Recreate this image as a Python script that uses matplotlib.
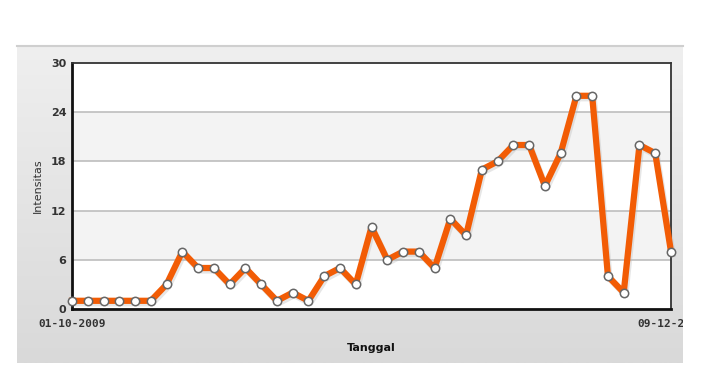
import matplotlib.pyplot as plt
import matplotlib.patches as mpatches
import numpy as np

# data
tanggal_awal = "01-10-2009"
tanggal_akhir = "09-12-2009"
intensitas = [1, 1, 1, 1, 1, 1, 3, 7, 5, 5, 3, 5, 3, 1, 2, 1, 4, 5, 3, 10,
              6, 7, 7, 5, 11, 9, 17, 18, 20, 20, 15, 19, 26, 26, 4, 2, 20, 19, 7]
y_ticks = [0, 6, 12, 18, 24, 30]

W, H = 702, 387
fig = plt.figure(figsize=(W / 100, H / 100), dpi=100)
fig.patch.set_facecolor("white")

# gray panel with a soft vertical gradient
bg = fig.add_axes([17 / W, 1 - 363 / H, 666 / W, 318 / H])
grad = np.linspace(0, 1, 256).reshape(-1, 1)
bg.imshow(grad, aspect="auto", cmap=plt.matplotlib.colors.LinearSegmentedColormap.from_list(
    "g", ["#efefef", "#d9d9d9"]), extent=[0, 1, 0, 1], origin="upper")
bg.set_axis_off()
fig.add_artist(plt.Line2D([17 / W, 683 / W], [1 - 46 / H, 1 - 46 / H],
                          color="#cfcfcf", lw=1.5, transform=fig.transFigure))

ax = fig.add_axes([72 / W, 1 - 309 / H, 599 / W, 246 / H])
ax.set_facecolor("white")

x = np.arange(len(intensitas))
# alternating bands
for i in range(len(y_ticks) - 1):
    if i % 2 == 1:
        ax.axhspan(y_ticks[i], y_ticks[i + 1], color="#f3f3f3", lw=0, zorder=0)
for t in y_ticks[1:-1]:
    ax.axhline(t, color="#bdbdbd", lw=1.2, zorder=1)

# shadow, line, markers
ax.plot(x + 0.1, np.array(intensitas) - 0.3, color="#b8b8b8", lw=4.5, alpha=0.35,
        solid_joinstyle="round", zorder=2, clip_on=False)
ax.plot(x, intensitas, color="#f25c05", lw=4.5, solid_joinstyle="round", zorder=3, clip_on=False)
ax.plot(x, intensitas, linestyle="none", marker="o", ms=6, mfc="white", mec="#666666",
        mew=1.1, zorder=4, clip_on=False)

ax.set_xlim(0, len(intensitas) - 1)
ax.set_ylim(0, 30)
ax.set_yticks(y_ticks)
ax.set_yticklabels([str(t) for t in y_ticks], fontsize=8, color="#333333", fontweight="bold",
                   family="DejaVu Sans")
ax.tick_params(axis="y", length=0, pad=4)
ax.set_xticks([])

for side in ["left", "bottom"]:
    ax.spines[side].set_linewidth(2)
    ax.spines[side].set_color("#111111")
for side in ["top", "right"]:
    ax.spines[side].set_linewidth(1.3)
    ax.spines[side].set_color("#333333")

ax.set_ylabel("Intensitas", fontsize=8, color="#333333", labelpad=6)
ax.text(0, -0.04, tanggal_awal, transform=ax.transAxes, ha="center", va="top",
        fontsize=8, fontweight="bold", color="#333333", family="DejaVu Sans Mono")
lbl = ax.text(1, -0.04, tanggal_akhir, transform=ax.transAxes, ha="center", va="top",
              fontsize=8, fontweight="bold", color="#333333", family="DejaVu Sans Mono")
# the reference cuts this label off at the panel edge
clip = mpatches.Rectangle((17 / W, 0), 666 / W, 1, transform=fig.transFigure, visible=False)
fig.add_artist(clip)
lbl.set_clip_path(clip)
lbl.set_clip_on(True)

ax.text(0.5, -0.14, "Tanggal", transform=ax.transAxes, ha="center", va="top",
        fontsize=8, fontweight="bold", color="#111111")

fig.savefig("out.png", dpi=100)
